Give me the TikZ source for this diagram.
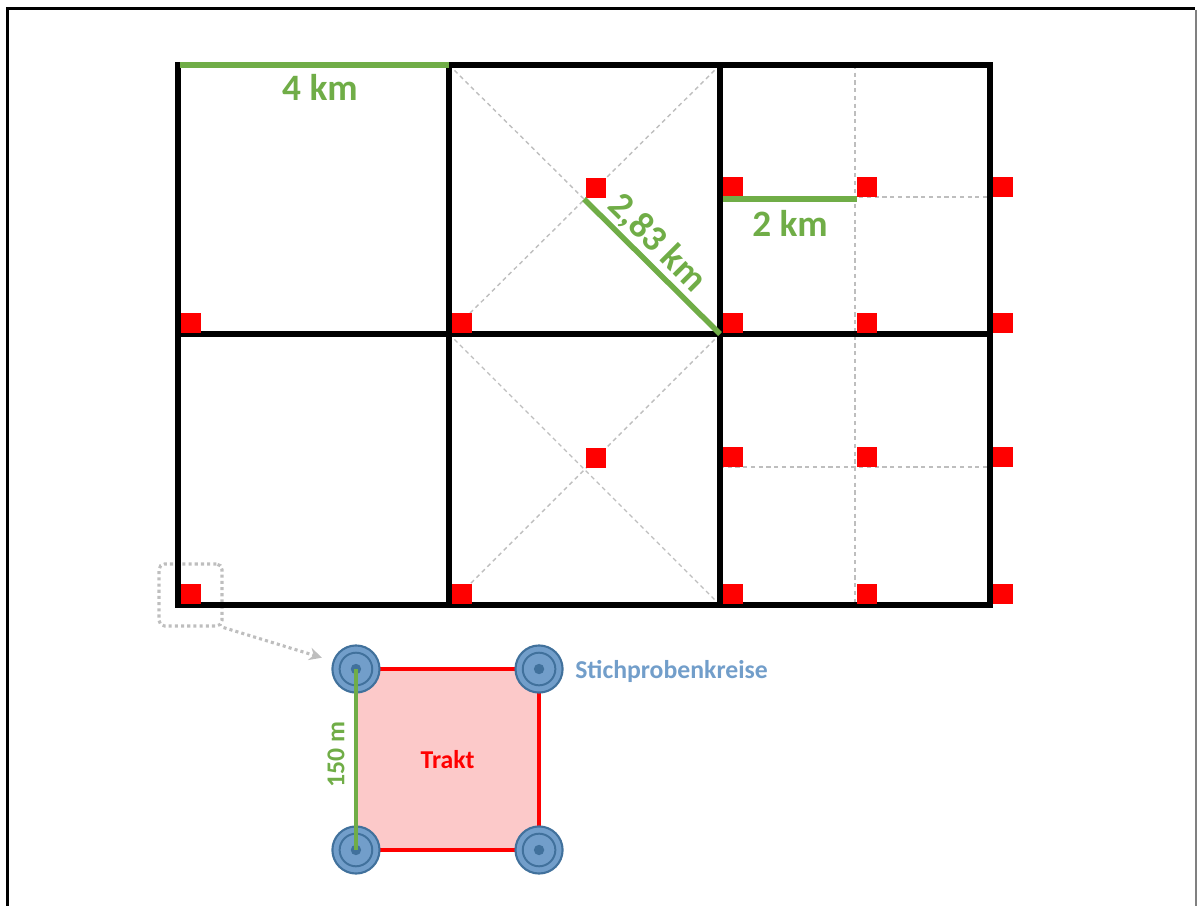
\documentclass[tikz,border=0pt]{standalone}
\usepackage{fontspec}
\setmainfont{Carlito}
\usepackage{tikz}
\usetikzlibrary{arrows.meta, positioning, calc}
\definecolor{massgruen}{RGB}{112,173,71}
\definecolor{kreisblau}{RGB}{114,158,202}
\definecolor{kreisrand}{RGB}{65,113,156}
\definecolor{traktrosa}{RGB}{252,201,201}
\definecolor{hilfsgrau}{RGB}{190,190,190}
\tikzset{
  raster/.style={line width=3.6pt, line cap=rect},
  hilfslinie/.style={hilfsgrau, line width=1pt, dash pattern=on 3pt off 2.5pt},
  massline/.style={massgruen, line width=3.9pt},
  masstext/.style={text=massgruen, inner sep=0pt, font=\fontsize{26.5}{30}\selectfont\bfseries},
  kleintext/.style={inner sep=0pt, font=\fontsize{18.3}{21}\selectfont\bfseries},
  kreis/.style={circle, minimum size=33.5pt, inner sep=0pt, fill=kreisblau,
    draw=kreisrand, line width=1.5pt,
    path picture={
      \draw[kreisrand, line width=1.4pt] (path picture bounding box.center) circle (11.6pt);
      \fill[kreisrand] (path picture bounding box.center) circle (3.7pt);}},
  traktbox/.style={rectangle, minimum width=130.2pt, minimum height=128.7pt,
    outer sep=0pt, fill=traktrosa, draw=red, line width=2.7pt, text=red},
  lupe/.style={rectangle, rounded corners=4pt, minimum width=44.8pt,
    minimum height=44.1pt, draw=hilfsgrau, line width=2.2pt,
    dash pattern=on 2.2pt off 2.2pt},
  zoompfeil/.style={hilfsgrau, line width=2.2pt, dash pattern=on 2.2pt off 2.2pt,
    -{Stealth[length=9pt, width=9pt]}, shorten >=8pt}
}
\begin{document}
\begin{tikzpicture}[x=0.025cm, y=-0.025cm, >=Stealth]
  \useasboundingbox (0,0) rectangle (1197,906);
  % page frame
  \draw[line width=2.2pt] (7.5,906) -- (7.5,8.5) -- (1195,8.5);
  \draw[gray, line width=0.8pt] (1196,10) -- (1196,906);
  % helper lines
  \foreach \ya/\yb in {65/334, 334/605}{
    \draw[hilfslinie] (449,\ya) -- (720,\yb);
    \draw[hilfslinie] (720,\ya) -- (449,\yb);
  }
  \draw[hilfslinie] (855,65) -- (855,605);
  \foreach \y in {197,467}
    \draw[hilfslinie] (720,\y) -- (990,\y);
  % zoom window
  \node[lupe] (lupe) at (190.5,595) {};
  % grid of 4 km cells
  \foreach \x in {178,449,720,990}
    \draw[raster] (\x,65) -- (\x,605);
  \foreach \y in {65,334,605}
    \draw[raster] (178,\y) -- (990,\y);
  % sample points
  \foreach \x/\y in {181/313, 181/584, 452/313, 452/584, 586/178, 586/448}
    \fill[red] (\x,\y) rectangle ++(20,20);
  \foreach \x in {723,857,993}
    \foreach \y in {177,313,447,584}
      \fill[red] (\x,\y) rectangle ++(20,20);
  % distances
  \coordinate (mitte) at (584,199);
  \coordinate (kreuz) at (720,334);
  \draw[massline] (180,65) -- (449,65);
  \draw[massline] (mitte) -- (kreuz);
  \draw[massline] (723,199) -- (857,199);
  \node[masstext] (l4) at (320,87) {4 km};
  \node[masstext] (l2) at (790,223) {2 km};
  \node[masstext, rotate=-45] (l283) at (657,243) {2,83 km};
  % trakt with sample circles
  \node[traktbox, kleintext] (trakt) at (447.5,759.5) {Trakt};
  \foreach \ecke/\name in {north west/k1, north east/k2, south west/k3, south east/k4}
    \node[kreis] (\name) at (trakt.\ecke) {};
  \draw[massgruen, line width=2.2pt] (k1.center) -- (k3.center);
  \node[kleintext, text=massgruen, rotate=90] (l150) at (336,755) {150 m};
  \node[kleintext, text=kreisblau, anchor=west] (sp) at (575,671) {Stichprobenkreise};
  \draw[zoompfeil] (lupe.south east) -- (k1.161);
\end{tikzpicture}
\end{document}
